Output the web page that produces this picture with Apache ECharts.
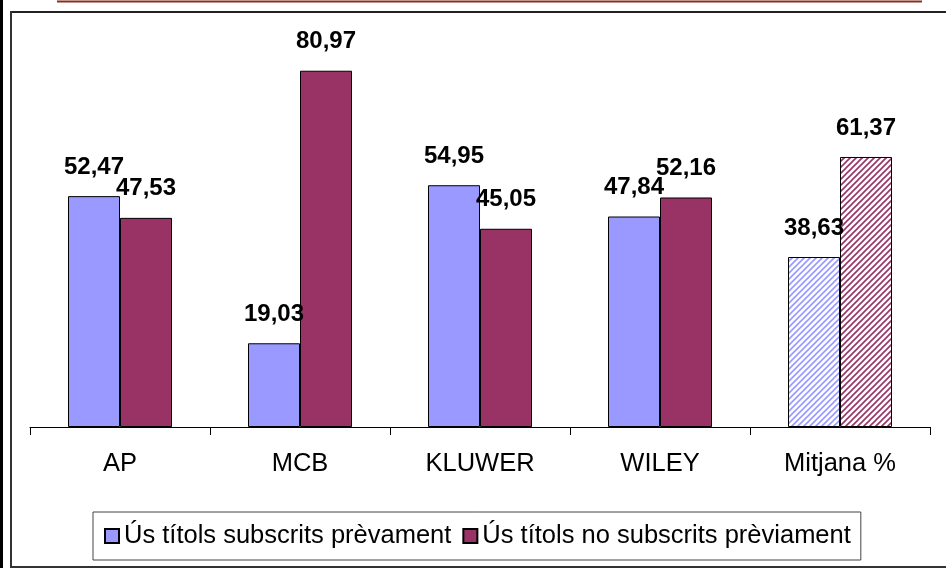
<!DOCTYPE html>
<html>
<head>
<meta charset="utf-8">
<script src="https://cdn.jsdelivr.net/npm/echarts@6/dist/echarts.min.js"></script>
<style>
  html, body { margin: 0; padding: 0; background: #fff; }
  #chart { width: 946px; height: 568px; }
</style>
</head>
<body>
<div id="chart"></div>
<script>
// categories and values
var categories = ['AP', 'MCB', 'KLUWER', 'WILEY', 'Mitjana %'];
var seriesNames = ['Ús títols subscrits prèvament', 'Ús títols no subscrits prèviament'];
var subscribed = [52.47, 19.03, 54.95, 47.84, 38.63];
var notSubscribed = [47.53, 80.97, 45.05, 52.16, 61.37];

var BLUE = '#9999ff';
var RED = '#993366';
var FONT = '"Liberation Sans", Arial, sans-serif';

// diagonal hatch for the "Mitjana" bars
function hatch (color) {
  var c = document.createElement('canvas');
  c.width = 6;
  c.height = 6;
  var ctx = c.getContext('2d');
  ctx.fillStyle = '#fff';
  ctx.fillRect(0, 0, 6, 6);
  ctx.strokeStyle = color;
  ctx.lineWidth = 1.6;
  ctx.beginPath();
  ctx.moveTo(-1, 7); ctx.lineTo(7, -1);
  ctx.moveTo(-4, 4); ctx.lineTo(4, -4);
  ctx.moveTo(2, 10); ctx.lineTo(10, 2);
  ctx.stroke();
  return { image: c, repeat: 'repeat' };
}

function withHatch (values, color) {
  return values.map(function (v, i) {
    if (i === values.length - 1) {
      return { value: v, itemStyle: { color: hatch(color) } };
    }
    return v;
  });
}

var myChart = echarts.init(document.getElementById('chart'));

var labelStyle = {
  show: true,
  position: 'top',
  distance: 17,
  color: '#000',
  fontFamily: FONT,
  fontWeight: 'bold',
  fontSize: 24,
  formatter: function (p) { return p.value.toFixed(2).replace('.', ','); }
};

myChart.setOption({
  animation: false,
  textStyle: { fontFamily: FONT },
  grid: { left: 30, right: 16, top: 31, bottom: 141 },
  graphic: [
    // outer thick line on the left
    { type: 'rect', shape: { x: 0, y: 0, width: 3, height: 568 }, style: { fill: '#000' }, silent: true },
    // red rule at the very top
    { type: 'line', shape: { x1: 57, y1: 1.5, x2: 922, y2: 1.5 }, style: { stroke: '#8b2c22', lineWidth: 2 }, silent: true },
    // chart frame
    { type: 'line', shape: { x1: 10, y1: 12, x2: 946, y2: 12 }, style: { stroke: '#222', lineWidth: 2 }, silent: true },
    { type: 'line', shape: { x1: 11, y1: 11, x2: 11, y2: 568 }, style: { stroke: '#333', lineWidth: 2 }, silent: true },
    { type: 'line', shape: { x1: 10, y1: 567, x2: 946, y2: 567 }, style: { stroke: '#333', lineWidth: 2 }, silent: true }
  ],
  legend: {
    left: 93,
    top: 512,
    padding: [11, 10, 11, 11],
    borderColor: '#444',
    borderWidth: 1,
    itemWidth: 14,
    itemHeight: 14,
    itemGap: 11,
    icon: 'rect',
    data: seriesNames,
    textStyle: { color: '#000', fontSize: 25.5, fontFamily: FONT }
  },
  xAxis: {
    type: 'category',
    data: categories,
    axisLine: { lineStyle: { color: '#000', width: 1 } },
    axisTick: { show: true, length: 8, lineStyle: { color: '#000' } },
    axisLabel: { color: '#000', fontSize: 25.5, fontFamily: FONT, margin: 24 }
  },
  yAxis: {
    type: 'value',
    min: 0,
    max: 90,
    show: false,
    splitLine: { show: false }
  },
  series: [
    {
      name: seriesNames[0],
      type: 'bar',
      barWidth: 52,
      barGap: '0%',
      data: withHatch(subscribed, BLUE),
      itemStyle: { color: BLUE, borderColor: '#000', borderWidth: 1 },
      label: labelStyle
    },
    {
      name: seriesNames[1],
      type: 'bar',
      barWidth: 52,
      data: withHatch(notSubscribed, RED),
      itemStyle: { color: RED, borderColor: '#000', borderWidth: 1 },
      label: labelStyle
    }
  ]
});
</script>
</body>
</html>
